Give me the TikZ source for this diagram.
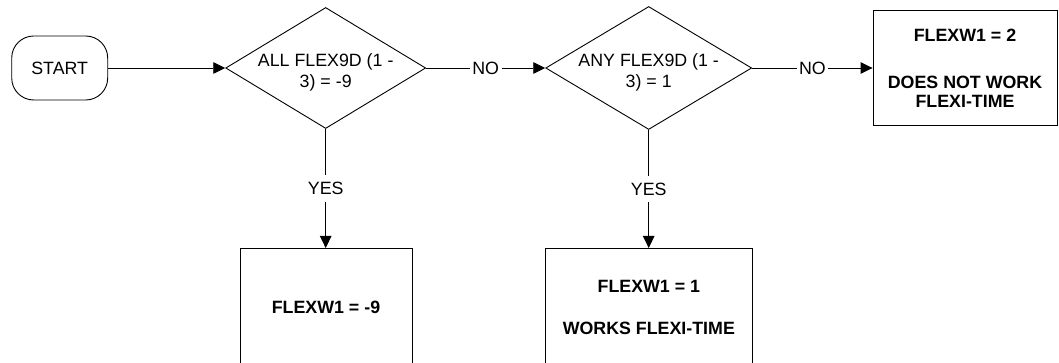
\documentclass[tikz,border=0pt]{standalone}
\usepackage{fontspec}
\setmainfont{Liberation Sans}
\usetikzlibrary{shapes.geometric,arrows.meta}
\begin{document}
\begin{tikzpicture}[x=1pt,y=-1pt,
  line width=0.9pt,
  every node/.style={font=\fontsize{17.8}{21}\selectfont},
  startbox/.style={draw, rectangle, rounded corners=22pt, minimum width=96pt, minimum height=64pt, inner sep=0pt},
  decision/.style={draw, diamond, inner sep=0pt},
  dtext/.style={align=center, inner sep=0pt, yshift=-4pt, font=\fontsize{17.8}{21}\selectfont},
  outbox/.style={draw, rectangle, inner sep=0pt, align=center, font=\fontsize{17.8}{18.5}\selectfont\bfseries},
  flow/.style={-{Triangle[length=12pt,width=11.5pt]}},
  branch/.style={fill=white, inner xsep=2.5pt, inner ysep=7pt}
]
\useasboundingbox (0,0) rectangle (1059,363);

\node[startbox] (start) at (59.7,68) {START};

\node[decision, minimum width=200pt, minimum height=121pt,
      label={[dtext]center:{ALL FLEX9D (1 -\\3) = -9}}] (d1) at (325.7,68) {};
\node[decision, minimum width=206pt, minimum height=123pt,
      label={[dtext]center:{ANY FLEX9D (1 -\\3) = 1}}] (d2) at (648.7,68) {};

\node[outbox, minimum width=184pt, minimum height=115pt] (box3) at (965,68)
  {FLEXW1 = 2\\[29pt]DOES NOT WORK\\FLEXI-TIME};
\node[outbox, anchor=north, minimum width=172pt, minimum height=118pt] (box1) at (326,248)
  {FLEXW1 = -9};
\node[outbox, anchor=north, minimum width=207.7pt, minimum height=118pt] (box2) at (648.85,248)
  {FLEXW1 = 1\\[24pt]WORKS FLEXI-TIME};

\draw[flow] (start.east) -- (d1.west);
\draw[flow] (d1.east) -- node[branch] {NO} (d2.west);
\draw[flow] (d2.east) -- node[branch] {NO} (box3.west);
\draw[flow] (d1.south) -- node[branch] {YES} (d1.south |- box1.north);
\draw[flow] (d2.south) -- node[branch] {YES} (d2.south |- box2.north);
\end{tikzpicture}
\end{document}
